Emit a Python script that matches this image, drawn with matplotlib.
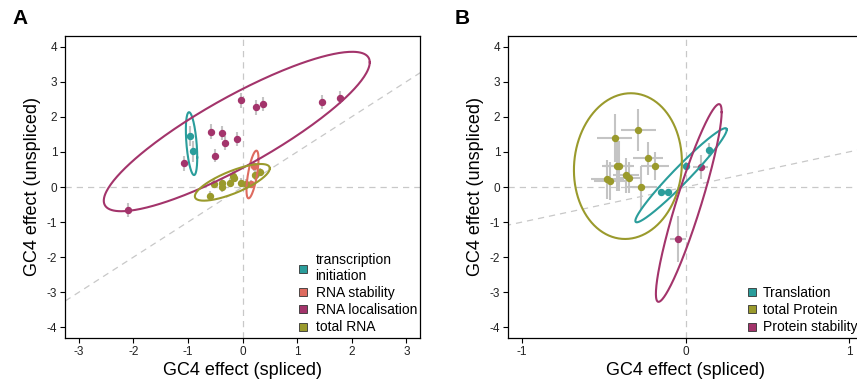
import numpy as np
import matplotlib
matplotlib.use("Agg")
import matplotlib.pyplot as plt
from matplotlib.lines import Line2D

plt.rcParams["font.family"] = ["Liberation Sans", "DejaVu Sans"]
plt.rcParams["axes.unicode_minus"] = False

# colours of the groups
c_teal = "#2a9d9b"
c_salmon = "#de6b5f"
c_magenta = "#a3346b"
c_olive = "#9a9a2c"
c_err = "#c4c4c4"

# ---- panel A: effects on RNA ----
a_teal_x = [-0.97, -0.90]
a_teal_y = [1.46, 1.02]
a_teal_yerr = [0.28, 0.30]

a_salmon_x = [0.15, 0.21]
a_salmon_y = [0.08, 0.60]
a_salmon_yerr = [0.12, 0.15]

a_mag_x = [-2.09, -1.08, -0.51, -0.58, -0.37, -0.32, -0.10, -0.02, 0.24, 0.38, 1.45, 1.79]
a_mag_y = [-0.66, 0.67, 0.89, 1.58, 1.54, 1.25, 1.37, 2.47, 2.27, 2.37, 2.43, 2.54]
a_mag_yerr = [0.2, 0.22, 0.18, 0.2, 0.2, 0.2, 0.2, 0.22, 0.22, 0.2, 0.2, 0.18]

a_olive_x = [-0.59, -0.53, -0.38, -0.38, -0.22, -0.18, -0.16, -0.03, 0.07, 0.22, 0.32]
a_olive_y = [-0.25, 0.09, 0.12, -0.01, 0.12, 0.32, 0.26, 0.12, 0.09, 0.35, 0.42]
a_olive_yerr = [0.14, 0.13, 0.13, 0.13, 0.13, 0.14, 0.13, 0.13, 0.13, 0.14, 0.12]

# ellipses: centre, spread in x / y, correlation
a_ell_cx = [-0.933, 0.183, -0.105, -0.186]
a_ell_cy = [1.235, 0.356, 1.58, 0.133]
a_ell_sx = [0.104, 0.11, 2.435, 0.686]
a_ell_sy = [0.895, 0.679, 2.27, 0.522]
a_ell_r = [-0.44, 0.65, 0.868, 0.76]

a_labels = ["transcription\ninitiation", "RNA stability", "RNA localisation", "total RNA"]

# ---- panel B: effects on protein ----
b_teal_x = [-0.148, -0.109, 0.0, 0.144]
b_teal_y = [-0.15, -0.15, 0.61, 1.06]
b_teal_xerr = [0.01, 0.01, 0.01, 0.012]
b_teal_yerr = [0.07, 0.07, 0.1, 0.18]

b_olive_x = [-0.288, -0.434, -0.231, -0.189, -0.418, -0.406, -0.363, -0.347, -0.477, -0.461, -0.270]
b_olive_y = [1.63, 1.40, 0.82, 0.61, 0.61, 0.61, 0.34, 0.27, 0.22, 0.17, -0.01]
b_olive_xerr = [0.105, 0.109, 0.092, 0.086, 0.09, 0.09, 0.08, 0.08, 0.1, 0.1, 0.096]
b_olive_yerr = [0.6, 0.69, 0.475, 0.40, 0.71, 0.71, 0.5, 0.45, 0.55, 0.55, 0.62]

b_mag_x = [0.094, -0.046]
b_mag_y = [0.56, -1.48]
b_mag_xerr = [0.046, 0.05]
b_mag_yerr = [0.34, 0.66]

b_ell_cx = [-0.027, -0.352, 0.02]
b_ell_cy = [0.335, 0.595, -0.455]
b_ell_sx = [0.2795, 0.33, 0.201]
b_ell_sy = [1.34, 2.075, 2.815]
b_ell_r = [0.969, 0.054, 0.919]

b_labels = ["Translation", "total Protein", "Protein stability"]


def draw_ellipse(ax, cx, cy, sx, sy, r, color):
    t = np.linspace(0, 2 * np.pi, 300)
    x = cx + sx * np.cos(t)
    y = cy + sy * (r * np.cos(t) + np.sqrt(1 - r ** 2) * np.sin(t))
    ax.plot(x, y, color=color, lw=1.5, zorder=4)


def style_axes(ax, xlim, ylim, xticks):
    ax.set_xlim(xlim)
    ax.set_ylim(ylim)
    ax.set_xticks(xticks)
    ax.set_yticks(range(-4, 5))
    ax.tick_params(direction="out", length=3.5, width=0.8, labelsize=8.5, pad=2,
                   labelcolor="#222222")
    for s in ax.spines.values():
        s.set_linewidth(0.9)
    ax.axhline(0, color="#c8c8c8", lw=0.9, ls=(0, (5, 4)), zorder=0)
    ax.axvline(0, color="#c8c8c8", lw=0.9, ls=(0, (5, 4)), zorder=0)
    ax.plot([-5, 5], [-5, 5], color="#c8c8c8", lw=0.9, ls=(0, (5, 4)), zorder=0)
    ax.set_xlabel("GC4 effect (spliced)", fontsize=13, labelpad=3)
    ax.set_ylabel("GC4 effect (unspliced)", fontsize=13, labelpad=4)


def add_legend(ax, colors, labels, anchor, pad=0.5):
    handles = [Line2D([], [], marker="s", ls="", markersize=6, markerfacecolor=c,
                      markeredgecolor="#333333", markeredgewidth=0.6) for c in colors]
    ax.legend(handles, labels, loc="lower left", bbox_to_anchor=anchor,
              frameon=False, fontsize=10, handletextpad=pad, handlelength=0.8,
              labelspacing=0.22, borderpad=0, borderaxespad=0)


fig = plt.figure(figsize=(8.57, 3.84), dpi=100)

# panel A
axA = fig.add_axes([65 / 857, 46 / 384, 355 / 857, 302 / 384])
style_axes(axA, (-3.25, 3.25), (-4.3, 4.3), range(-3, 4))
groups_a = [
    (a_teal_x, a_teal_y, a_teal_yerr, c_teal),
    (a_salmon_x, a_salmon_y, a_salmon_yerr, c_salmon),
    (a_mag_x, a_mag_y, a_mag_yerr, c_magenta),
    (a_olive_x, a_olive_y, a_olive_yerr, c_olive),
]
for x, y, ye, col in groups_a:
    axA.errorbar(x, y, yerr=ye, fmt="none", ecolor=c_err, elinewidth=1.5, zorder=2)
    axA.plot(x, y, "o", color=col, markersize=4.3, zorder=3)
for i, col in enumerate([c_teal, c_salmon, c_magenta, c_olive]):
    draw_ellipse(axA, a_ell_cx[i], a_ell_cy[i], a_ell_sx[i], a_ell_sy[i], a_ell_r[i], col)
add_legend(axA, [c_teal, c_salmon, c_magenta, c_olive], a_labels, (0.655, 0.012))
fig.text(12 / 857, 1 - 18 / 384, "A", fontsize=15, fontweight="bold", va="center")

# panel B
axB = fig.add_axes([508 / 857, 46 / 384, 355 / 857, 302 / 384])
style_axes(axB, (-1.085, 1.085), (-4.3, 4.3), [-1, 0, 1])
groups_b = [
    (b_olive_x, b_olive_y, b_olive_xerr, b_olive_yerr, c_olive),
    (b_teal_x, b_teal_y, b_teal_xerr, b_teal_yerr, c_teal),
    (b_mag_x, b_mag_y, b_mag_xerr, b_mag_yerr, c_magenta),
]
for x, y, xe, ye, col in groups_b:
    axB.errorbar(x, y, xerr=xe, yerr=ye, fmt="none", ecolor=c_err, elinewidth=1.5, zorder=2)
    axB.plot(x, y, "o", color=col, markersize=4.3, zorder=3)
for i, col in enumerate([c_teal, c_olive, c_magenta]):
    draw_ellipse(axB, b_ell_cx[i], b_ell_cy[i], b_ell_sx[i], b_ell_sy[i], b_ell_r[i], col)
add_legend(axB, [c_teal, c_olive, c_magenta], b_labels, (0.672, 0.012), pad=0.35)
fig.text(455 / 857, 1 - 18 / 384, "B", fontsize=15, fontweight="bold", va="center")

fig.savefig("out.png", dpi=100)
